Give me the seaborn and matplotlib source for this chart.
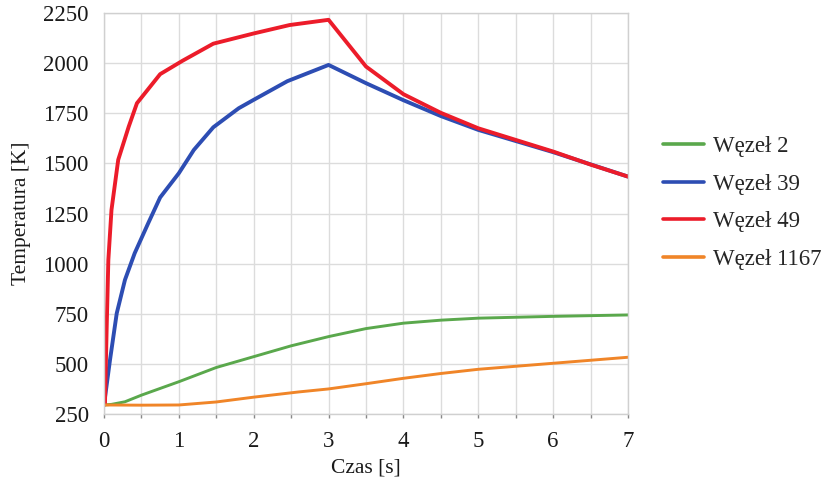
import matplotlib
matplotlib.use("Agg")
import matplotlib.pyplot as plt
import seaborn as sns
import pandas as pd
from matplotlib.ticker import MultipleLocator

series_names = ["Węzeł 2", "Węzeł 39", "Węzeł 49", "Węzeł 1167"]
colors = ["#5aa84c", "#2d4db3", "#ec1c2a", "#f08528"]

t_w2 = [0.0, 0.1, 0.28, 0.5, 1.0, 1.5, 2.0, 2.5, 3.0, 3.5, 4.0, 4.5, 5.0, 6.0, 7.0]
v_w2 = [295, 298, 311, 344, 411, 482, 536, 590, 636, 676, 703, 718, 728, 737, 744]

t_w39 = [0.0, 0.08, 0.17, 0.28, 0.41, 0.59, 0.75, 1.0, 1.2, 1.46, 1.8, 2.0, 2.45, 3.0, 3.5, 4.0, 4.5, 5.0, 6.0, 7.0]
v_w39 = [295, 519, 752, 919, 1052, 1201, 1330, 1451, 1567, 1680, 1775, 1817, 1910, 1991, 1900, 1815, 1736, 1667, 1556, 1434]

t_w49 = [0.0, 0.013, 0.036, 0.058, 0.1, 0.19, 0.33, 0.44, 0.75, 1.05, 1.46, 2.0, 2.48, 3.0, 3.5, 4.0, 4.5, 5.0, 5.5, 6.0, 6.5, 7.0]
v_w49 = [295, 303, 686, 1018, 1268, 1518, 1683, 1800, 1945, 2012, 2097, 2148, 2190, 2216, 1983, 1845, 1752, 1675, 1617, 1559, 1494, 1434]

t_w1167 = [0.0, 0.5, 1.0, 1.5, 2.0, 2.6, 3.0, 3.5, 4.0, 4.5, 5.0, 5.5, 6.0, 6.5, 7.0]
v_w1167 = [295, 294, 295, 310, 334, 360, 375, 401, 428, 452, 473, 488, 503, 518, 533]

x_ticks = [0, 1, 2, 3, 4, 5, 6, 7]
y_ticks = [250, 500, 750, 1000, 1250, 1500, 1750, 2000, 2250]

frames = []
for name, t, v in [(series_names[0], t_w2, v_w2), (series_names[1], t_w39, v_w39),
                   (series_names[2], t_w49, v_w49), (series_names[3], t_w1167, v_w1167)]:
    frames.append(pd.DataFrame({"Czas": t, "Temperatura": v, "Seria": name}))
df = pd.concat(frames, ignore_index=True)

sns.set_theme(style="white")
plt.rcParams["font.family"] = ["Liberation Serif", "DejaVu Serif"]

fig = plt.figure(figsize=(8.25, 4.84), dpi=100)
ax = fig.add_axes([104/825, 1-414/484, (628-104)/825, (414-13)/484])

sns.lineplot(data=df, x="Czas", y="Temperatura", hue="Seria", hue_order=series_names,
             palette=colors, ax=ax, linewidth=2.3, sort=False, estimator=None, legend=True)
for line, lw in zip(ax.lines, [2.1, 2.8, 2.8, 2.1]):
    line.set_linewidth(lw)
    line.set_solid_joinstyle("round")

ax.set_xlim(0, 7)
ax.set_ylim(250, 2250)
ax.set_xticks(x_ticks)
ax.set_yticks(y_ticks)
ax.xaxis.set_minor_locator(MultipleLocator(0.5))
ax.grid(True, which="both", axis="x", color="#dcdcdc", linewidth=1.0)
ax.grid(True, which="major", axis="y", color="#dcdcdc", linewidth=1.0)
ax.set_axisbelow(True)
for s in ax.spines.values():
    s.set_color("#d0d0d0")
    s.set_linewidth(1.0)
ax.tick_params(axis="both", which="major", labelsize=16.5, colors="#1a1a1a", length=3, width=1, color="#888888")
ax.tick_params(axis="x", which="minor", length=3, width=1, color="#888888", bottom=True)
ax.tick_params(axis="x", which="major", bottom=True, pad=9)
ax.tick_params(axis="y", which="major", left=False, pad=8)
ax.set_xlabel("Czas [s]", fontsize=15.5, color="#1a1a1a", labelpad=5)
ax.set_ylabel("Temperatura [K]", fontsize=15.5, color="#1a1a1a", labelpad=9)

leg = ax.legend(loc="upper left", bbox_to_anchor=(663/825, 1-136/484), bbox_transform=fig.transFigure,
                frameon=False, fontsize=16.5, borderpad=0, borderaxespad=0,
                handlelength=1.8, handletextpad=0.4, labelspacing=0.72)
for h in leg.get_lines():
    h.set_linewidth(2.6)

fig.savefig("out.png", dpi=100)
